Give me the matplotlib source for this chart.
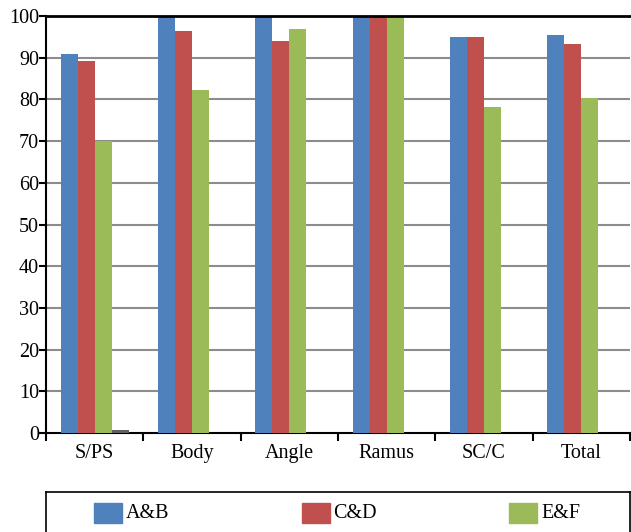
import matplotlib.pyplot as plt
from matplotlib.patches import Rectangle
import numpy as np

plt.rcParams['font.family'] = ['Liberation Serif', 'DejaVu Serif']

categories = ["S/PS", "Body", "Angle", "Ramus", "SC/C", "Total"]
series_names = ["A&B", "C&D", "E&F"]
ab = [91.0, 100.0, 100.0, 100.0, 95.0, 95.4]
cd = [89.2, 96.5, 94.0, 100.0, 95.0, 93.3]
ef = [70.0, 82.2, 96.9, 100.0, 78.1, 80.4]
extra = [0.8, 0, 0, 0, 0, 0]

colors = ["#4F81BD", "#C0504D", "#9BBB59", "#606060"]
fs = 14.5

fig = plt.figure(figsize=(6.31, 5.32), dpi=100)
ax = fig.add_axes([46 / 631, 1 - 433 / 532, 584 / 631, 417 / 532])

x = np.arange(len(categories))
w = 0.175
for i, vals in enumerate([ab, cd, ef, extra]):
    ax.bar(x + (i - 1.5) * w, vals, w, color=colors[i], zorder=3)

ax.set_xlim(-0.5, len(categories) - 0.5)
ax.set_ylim(0, 100)
ax.set_yticks(np.arange(0, 101, 10))
ax.set_xticks(x)
ax.set_xticklabels(categories)
ax.set_xticks(np.arange(-0.5, len(categories)), minor=True)
ax.tick_params(axis='x', which='major', length=0, pad=8, labelsize=fs)
ax.tick_params(axis='x', which='minor', length=6, width=1.5, direction='out')
ax.tick_params(axis='y', length=5, width=1.5, pad=0, labelsize=fs)

for yv in range(10, 100, 10):
    ax.axhline(yv, color="#8c8c8c", lw=1.5, zorder=1)
ax.axhline(100, color="black", lw=2, zorder=4, clip_on=False)

for s in ["top", "right"]:
    ax.spines[s].set_visible(False)
for s in ["left", "bottom"]:
    ax.spines[s].set_linewidth(1.5)

# legend box along the bottom, laid out in pixel units
lax = fig.add_axes([46 / 631, -20 / 532, 584 / 631, 60 / 532])
lax.set_xlim(0, 584)
lax.set_ylim(-20, 40)
lax.set_xticks([])
lax.set_yticks([])
for s in lax.spines.values():
    s.set_linewidth(1.2)
for i, name in enumerate(series_names):
    x0 = 48 + i * 207.5
    lax.add_patch(Rectangle((x0, 9), 28, 20, color=colors[i]))
    lax.text(x0 + 32, 19, name, va='center', ha='left', fontsize=fs)

fig.savefig("out.png", dpi=100)
